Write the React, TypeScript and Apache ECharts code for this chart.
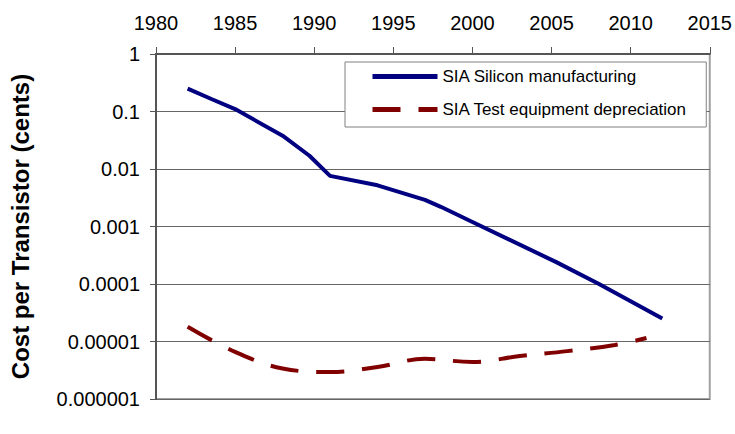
import React, { useEffect, useRef } from "react";
import * as echarts from "echarts";

const seriesNames = ["SIA Silicon manufacturing", "SIA Test equipment depreciation"];

const siliconYears = [1982, 1983.5, 1985, 1988, 1989.7, 1991, 1994, 1997, 1998, 2000, 2005.3, 2008, 2012];
const siliconValues = [0.25, 0.165, 0.11, 0.038, 0.017, 0.0076, 0.0052, 0.0029, 0.0022, 0.0012, 0.00024, 0.0001, 0.000025];

const testYears = [1982, 1985, 1988, 1991, 1994, 1997, 2000, 2003, 2006, 2009, 2011];
const testValues = [0.000018, 0.0000066, 0.0000034, 0.00000295, 0.0000036, 0.000005, 0.0000044, 0.0000056, 0.0000068, 0.0000087, 0.0000115];

const yTickLabels = ["0.000001", "0.00001", "0.0001", "0.001", "0.01", "0.1", "1"];

const FONT = "'Liberation Sans', Arial, sans-serif";

export default function App() {
  const ref = useRef<HTMLDivElement>(null);
  useEffect(() => {
    if (!ref.current) return;
    const chart = echarts.init(ref.current, undefined, { renderer: "svg" });
    chart.setOption({
      animation: false,
      backgroundColor: "#ffffff",
      textStyle: { fontFamily: FONT },
      grid: {
        left: 153,
        right: 25,
        top: 54,
        bottom: 35,
        show: true,
        borderColor: "#a0a0a0",
        borderWidth: 2,
        backgroundColor: "transparent",
      },
      legend: {
        orient: "vertical",
        left: 345,
        top: 62,
        padding: [6, 19, 9, 25],
        itemGap: 16,
        itemWidth: 65,
        itemHeight: 14,
        backgroundColor: "#ffffff",
        borderColor: "#808080",
        borderWidth: 1,
        itemStyle: { opacity: 0 },
        lineStyle: { width: 5 },
        textStyle: { fontSize: 17, color: "#000", fontFamily: FONT },
        data: seriesNames,
      },
      xAxis: {
        type: "value",
        position: "top",
        min: 1980,
        max: 2015,
        interval: 5,
        axisLine: { show: true, lineStyle: { color: "#555", width: 2 } },
        axisTick: { show: true, length: 7, lineStyle: { color: "#555", width: 1 } },
        axisLabel: {
          fontSize: 20,
          color: "#000",
          margin: 21,
          fontFamily: FONT,
          formatter: (v: number) => String(v),
        },
        splitLine: { show: false },
      },
      yAxis: {
        type: "log",
        logBase: 10,
        min: 0.000001,
        max: 1,
        axisLine: { show: true, lineStyle: { color: "#555", width: 2 } },
        axisTick: { show: true, length: 6, lineStyle: { color: "#555", width: 1 } },
        axisLabel: {
          fontSize: 20,
          color: "#000",
          margin: 16,
          fontFamily: FONT,
          formatter: (v: number) => {
            const idx = Math.round(Math.log10(v)) + 6;
            return yTickLabels[idx] ?? "";
          },
        },
        splitLine: { show: true, lineStyle: { color: "#666", width: 1 } },
        name: "Cost per Transistor (cents)",
        nameLocation: "middle",
        nameGap: 124,
        nameTextStyle: { fontSize: 24, fontWeight: "bold", color: "#000", fontFamily: FONT },
      },
      series: [
        {
          name: seriesNames[0],
          type: "line",
          symbol: "none",
          data: siliconYears.map((y, i) => [y, siliconValues[i]]),
          lineStyle: { color: "#000080", width: 4 },
          itemStyle: { color: "#000080" },
          z: 3,
        },
        {
          name: seriesNames[1],
          type: "line",
          symbol: "none",
          smooth: 0.4,
          data: testYears.map((y, i) => [y, testValues[i]]),
          lineStyle: { color: "#800000", width: 4, type: [28, 18] },
          itemStyle: { color: "#800000" },
          z: 3,
        },
      ],
    });
    return () => chart.dispose();
  }, []);
  return <div ref={ref} style={{ width: 735, height: 434, position: "absolute", left: 0, top: 0 }} />;
}
